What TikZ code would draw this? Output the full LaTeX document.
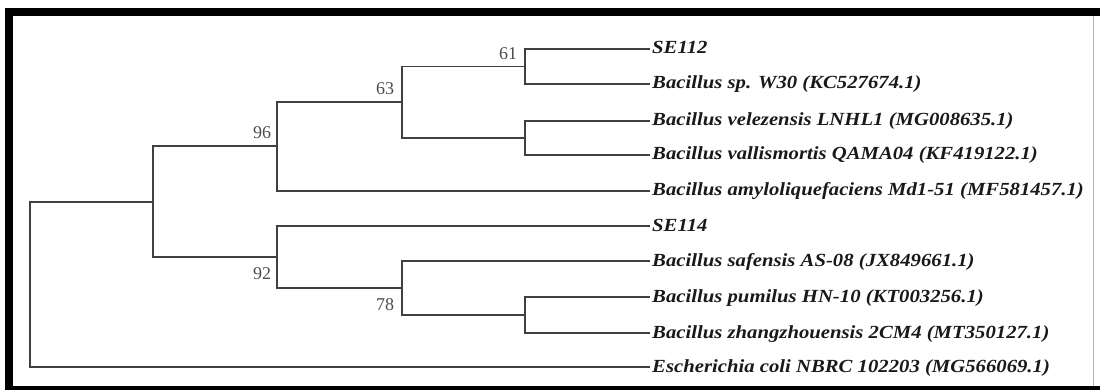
\documentclass[tikz,border=0pt]{standalone}
\usepackage{fontspec}
\setmainfont{Liberation Serif}
\newfontfamily\taxfont[FakeStretch=1.12]{Liberation Serif}
\begin{document}
\begin{tikzpicture}[x=1pt,y=-1pt,
  branch/.style={draw=black!75,line width=1.4pt},
  taxon/.style={anchor=base west,inner sep=0pt,font=\taxfont\fontsize{18.5}{18.5}\selectfont\bfseries\itshape,text=black!90},
  boot/.style={inner sep=0pt,font=\fontsize{18}{18}\selectfont,text=black!70}]
\useasboundingbox (0,0) rectangle (1100,390);
% frame
\fill[black] (5,8) rectangle (1100,16);
\fill[black] (5,8) rectangle (13,388);
\fill[black] (5,386) rectangle (1100,390);
\draw[black!30,line width=0.8pt] (1093,16) -- (1093,386);
% tips
\coordinate (t1) at (650,49);
\coordinate (t2) at (650,84);
\coordinate (t3) at (650,121);
\coordinate (t4) at (650,155);
\coordinate (t5) at (650,191);
\coordinate (t6) at (650,226);
\coordinate (t7) at (650,261);
\coordinate (t8) at (650,297);
\coordinate (t9) at (650,333);
\coordinate (t10) at (650,367);
% internal nodes
\coordinate (n61) at (525,66.5);
\coordinate (nv) at (525,138);
\coordinate (n63) at (402,102);
\coordinate (n96) at (277,146);
\coordinate (np) at (525,315);
\coordinate (n78) at (402,288);
\coordinate (n92) at (277,257);
\coordinate (nrc) at (153,202);
\coordinate (root) at (30,284.5);
% labels
\node[taxon] (l1) at (652,54) {SE112};
\node[taxon] (l2) at (652,89) {Bacillus sp. W30 (KC527674.1)};
\node[taxon] (l3) at (652,126) {Bacillus velezensis LNHL1 (MG008635.1)};
\node[taxon] (l4) at (652,160) {Bacillus vallismortis QAMA04 (KF419122.1)};
\node[taxon] (l5) at (652,196) {Bacillus amyloliquefaciens Md1-51 (MF581457.1)};
\node[taxon] (l6) at (652,231) {SE114};
\node[taxon] (l7) at (652,266) {Bacillus safensis AS-08 (JX849661.1)};
\node[taxon] (l8) at (652,302) {Bacillus pumilus HN-10 (KT003256.1)};
\node[taxon] (l9) at (652,338) {Bacillus zhangzhouensis 2CM4 (MT350127.1)};
\node[taxon] (l10) at (652,372) {Escherichia coli NBRC 102203 (MG566069.1)};
% branches
\draw[branch] (t1) -| (n61) |- (t2);
\draw[branch] (t3) -| (nv) |- (t4);
\draw[branch] (n61) -| (n63) |- (nv);
\draw[branch] (n63) -| (n96) |- (t5);
\draw[branch] (t8) -| (np) |- (t9);
\draw[branch] (t7) -| (n78) |- (np);
\draw[branch] (t6) -| (n92) |- (n78);
\draw[branch] (n96) -| (nrc) |- (n92);
\draw[branch] (nrc) -| (root) |- (t10);
% bootstrap values
\node[boot] (b61) at (508,54) {61};
\node[boot] (b63) at (385,89) {63};
\node[boot] (b96) at (262,133) {96};
\node[boot] (b92) at (262,274) {92};
\node[boot] (b78) at (385,305) {78};
\end{tikzpicture}
\end{document}
